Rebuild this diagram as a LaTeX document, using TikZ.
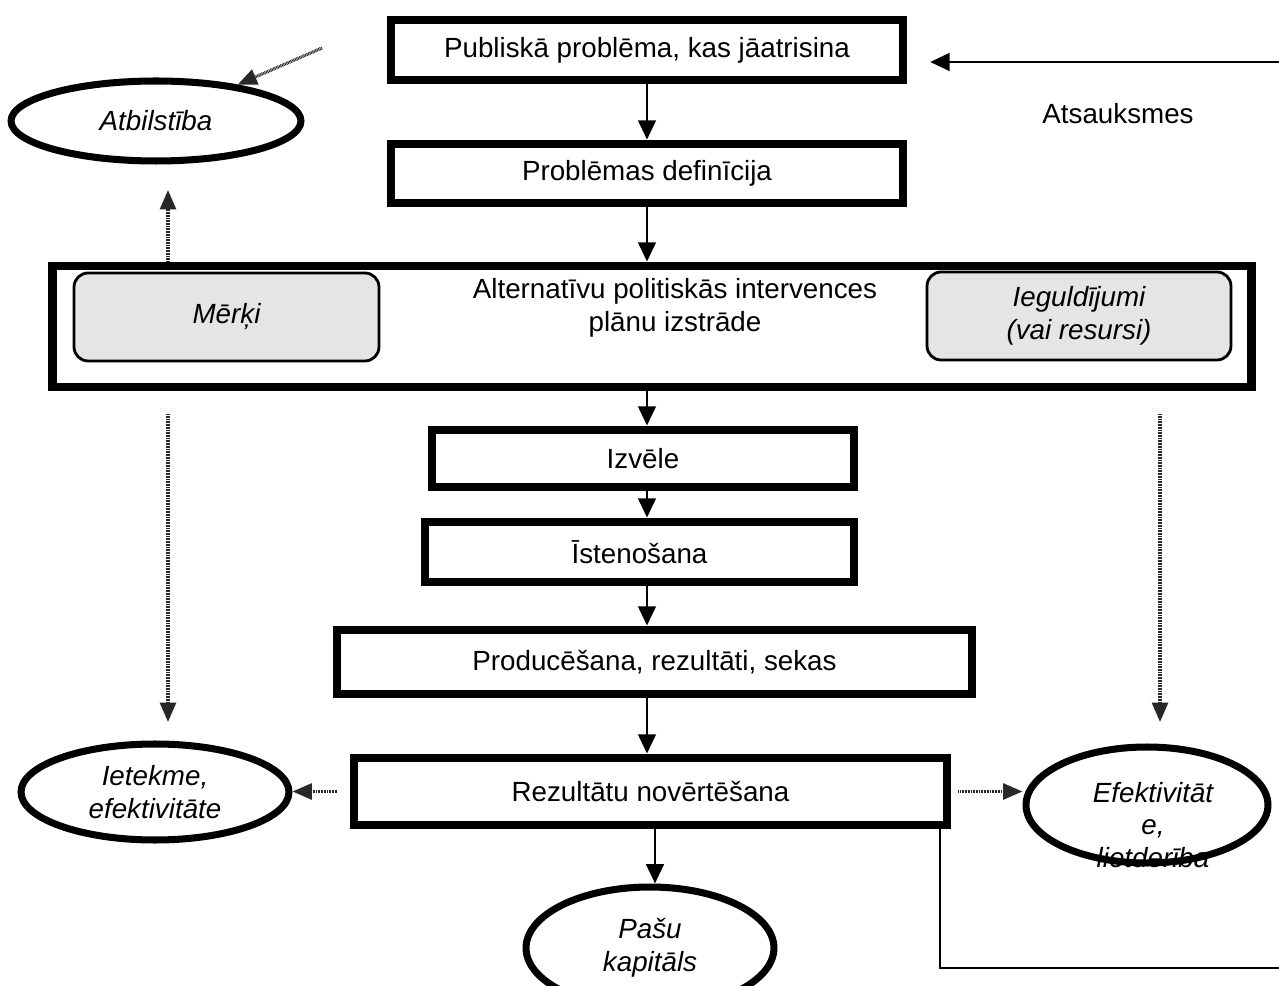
\documentclass[tikz,border=0pt]{standalone}
\usepackage{fontspec}
\setmainfont{Liberation Sans}
\usetikzlibrary{positioning,arrows.meta,calc,shapes.geometric}
\definecolor{evGray}{RGB}{229,229,229}
\definecolor{evDot}{RGB}{40,40,40}
\tikzset{
    base/.style={font=\fontsize{15.8}{18.7}\selectfont, align=center},
    stage/.style={base, rectangle, draw, line width=5pt, fill=white, inner sep=0pt},
    goal/.style={base, rectangle, rounded corners=2.8mm, draw, line width=1.6pt,
                 fill=evGray, inner sep=0pt, font=\fontsize{15.8}{18.7}\selectfont\itshape},
    crit/.style={base, ellipse, draw, line width=4pt, fill=white, inner sep=0pt,
                 font=\fontsize{15.8}{18.7}\selectfont\itshape},
    flow/.style={-{Triangle[length=11pt,width=10pt]}, line width=1.6pt},
    hint/.style={-{Triangle[length=11pt,width=9pt]}, line width=1.8pt, color=evDot,
                 dash pattern=on 0.5pt off 0.4pt},
    back/.style={line width=1.3pt}
}
\begin{document}
\begin{tikzpicture}[x=0.02cm, y=-0.02cm]
  \useasboundingbox (0,0) rectangle (1279,986);
  \clip (0,0) rectangle (1279,986);

  % main chain of stages
  \node[stage, minimum width=10.24cm, minimum height=1.2cm] (pub) at (647,50)
    {Publiskā problēma, kas jāatrisina};
  \node[stage, minimum width=10.24cm, minimum height=1.18cm] (def) at (647,173.5)
    {Problēmas definīcija};
  \node[stage, minimum width=24cm, minimum height=2.42cm] (alt) at (652,326.5) {};
  \node[base] (alttxt) at (675,308)
    {Alternatīvu politiskās intervences\\plānu izstrāde};
  \node[goal, minimum width=6.1cm, minimum height=1.76cm] (mer) at (226.5,317) {Mērķi};
  \node[goal, minimum width=6.08cm, minimum height=1.76cm] (ieg) at (1079,316)
    {Ieguldījumi\\(vai resursi)};
  \node[stage, minimum width=8.44cm, minimum height=1.14cm] (izv) at (643,458.5) {Izvēle};
  \node[stage, minimum width=8.58cm, minimum height=1.2cm] (ist) at (639.5,552) {Īstenošana};
  \node[stage, minimum width=12.7cm, minimum height=1.28cm] (prod) at (654.5,662)
    {Producēšana, rezultāti, sekas};
  \node[stage, minimum width=11.86cm, minimum height=1.34cm] (rez) at (650.5,791.5)
    {Rezultātu novērtēšana};

  % evaluation criteria
  \node[crit, minimum width=5.8cm, minimum height=1.6cm] (atb) at (156,121) {Atbilstība};
  \node[crit, minimum width=5.36cm, minimum height=1.92cm] (iet) at (155,792)
    {Ietekme,\\efektivitāte};
  \node[base, font=\fontsize{15.8}{18.7}\selectfont\itshape] (efftxt) at (1153,825)
    {Efektivitāt\\e,\\lietderība};
  \node[crit, fill=none, minimum width=4.84cm, minimum height=2.32cm] (eff) at (1147,805) {};
  \node[crit, minimum width=4.96cm, minimum height=2.44cm] (pasu) at (650,948)
    {Pašu\\kapitāls};

  \node[base] (fbtxt) at (1118,114) {Atsauksmes};

  % arrows down the chain
  \draw[flow] (pub) -- (def);
  \draw[flow] (def.south) -- (def.south |- alt.north);
  \draw[flow] (alt.south -| def) -- (izv.north -| def);
  \draw[flow] (izv.south -| def) -- (ist.north -| def);
  \draw[flow] (ist.south -| def) -- (prod.north -| def);
  \draw[flow] (prod.south -| def) -- (rez.north -| def);
  \draw[flow] (rez.south -| 655,0) -- (pasu.north -| 655,0);

  % dotted links to the criteria
  \coordinate (aup) at (168,190);
  \coordinate (adl) at (168,722);
  \coordinate (adr) at (1160,722);
  \coordinate (adiag) at (322,48);
  \draw[hint] (alt.north -| aup) -- (aup);
  \draw[hint] (adiag) -- (atb.24);
  \draw[hint, shorten <=13pt] (alt.south -| adl) -- (adl);
  \draw[hint, shorten <=13pt] (alt.south -| adr) -- (adr);
  \draw[hint, shorten <=7pt] (rez.west) -- (rez.west -| iet.east);
  \draw[hint, shorten <=4pt] (rez.east) -- (rez.east -| eff.west);

  % feedback loop
  \coordinate (fbx) at (940,968);
  \coordinate (fbr) at (1279,968);
  \coordinate (fbt) at (1279,62);
  \draw[back] (rez.south -| fbx) -- (fbx) -- (fbr);
  \draw[flow, shorten >=13pt] (fbt) -- (fbt -| pub.east);
\end{tikzpicture}
\end{document}
